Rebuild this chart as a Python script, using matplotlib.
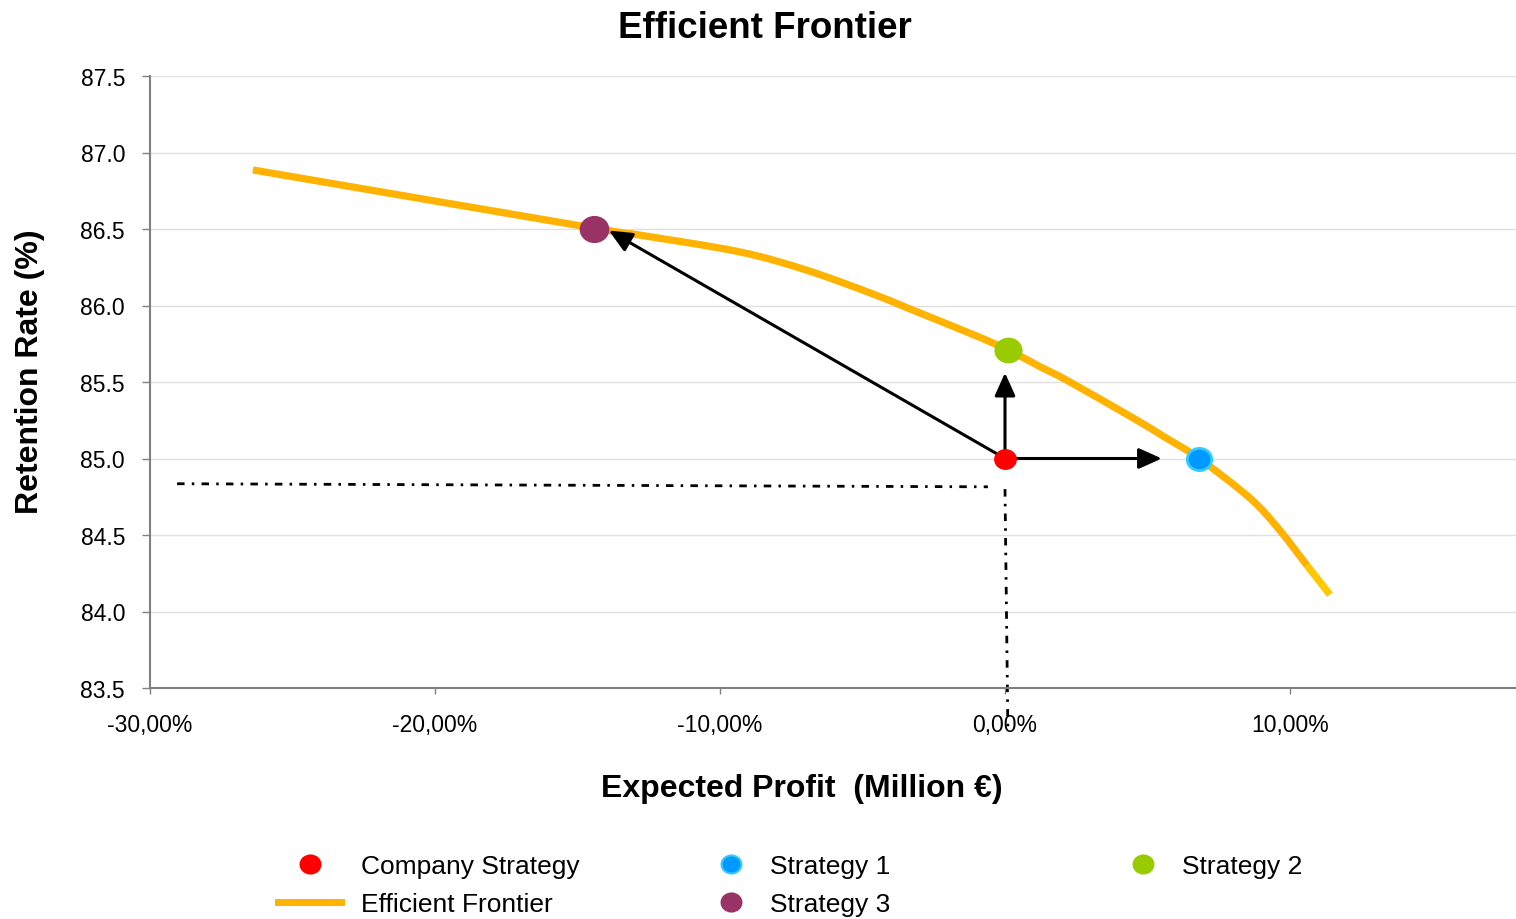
import matplotlib
matplotlib.use("Agg")
import matplotlib.pyplot as plt
from matplotlib.lines import Line2D
from matplotlib.markers import MarkerStyle
from matplotlib.transforms import Affine2D
from matplotlib.path import Path
from matplotlib.patches import PathPatch

plt.rcParams['font.family'] = ['Liberation Sans', 'DejaVu Sans']

# Efficient frontier: expected profit (%) vs retention rate (%)
frontier_x = [-26.39, -14.46, -12.81, -9.30, -6.95, -4.63, -3.44, -1.12, 0.10,
              1.23, 2.18, 4.49, 5.60, 6.81, 8.60, 9.60, 10.60, 11.40]
frontier_y = [86.886, 86.507, 86.46, 86.35, 86.23, 86.075, 85.985, 85.81, 85.71,
              85.60, 85.51, 85.265, 85.14, 85.00, 84.74, 84.54, 84.30, 84.11]

# Strategy points
company_xy = (0.0, 85.0)
strategy1_xy = (6.8, 85.0)
strategy2_xy = (0.1, 85.71)
strategy3_xy = (-14.42, 86.5)

# Arrow tips starting from the company strategy
arrow_tips = [(5.5, 85.0), (0.0, 85.56), (-13.9, 86.49)]

# Reference guide lines
guide_h_x = [-29.05, -0.6]
guide_h_y = [84.835, 84.815]
guide_v_x = [0.0, 0.1]
guide_v_y = [84.80, 83.25]

y_ticks = [83.5, 84.0, 84.5, 85.0, 85.5, 86.0, 86.5, 87.0, 87.5]
x_ticks = [-30, -20, -10, 0, 10]
x_tick_labels = ['-30,00%', '-20,00%', '-10,00%', '0,00%', '10,00%']

FRONTIER = '#FFB300'
FRONTIER_END = '#FFC800'
RED = '#FF0000'
BLUE = '#0099FF'
BLUE_EDGE = '#33CCFF'
GREEN = '#99CC00'
PURPLE = '#993366'

W, H = 1516, 920
fig = plt.figure(figsize=(W / 100, H / 100), dpi=100)
ax = fig.add_axes([150 / W, 1 - 689 / H, (W - 150) / W, (689 - 77) / H])

ellipse = MarkerStyle('o', transform=Affine2D().scale(1.1, 1.0))


def smooth_path(xs, ys, tension=1 / 6):
    """Smoothed line through the points using cubic Bezier segments."""
    pts = list(zip(xs, ys))
    verts = [pts[0]]
    codes = [Path.MOVETO]
    n = len(pts)
    for i in range(n - 1):
        p0 = pts[i - 1] if i > 0 else pts[i]
        p1 = pts[i]
        p2 = pts[i + 1]
        p3 = pts[i + 2] if i + 2 < n else pts[i + 1]
        c1 = (p1[0] + (p2[0] - p0[0]) * tension, p1[1] + (p2[1] - p0[1]) * tension)
        c2 = (p2[0] - (p3[0] - p1[0]) * tension, p2[1] - (p3[1] - p1[1]) * tension)
        verts += [c1, c2, p2]
        codes += [Path.CURVE4] * 3
    return Path(verts, codes)


# frontier curve
ax.add_patch(PathPatch(smooth_path(frontier_x[:-1], frontier_y[:-1]), fill=False,
                       edgecolor=FRONTIER, lw=5.2, joinstyle='round',
                       capstyle='butt', zorder=3))
ax.plot(frontier_x[-2:], frontier_y[-2:], color=FRONTIER_END, lw=5.2,
        solid_capstyle='butt', zorder=3)

# dash-dot guides
dd = (2.7, 2.6, 0.9, 2.6)
ax.plot(guide_h_x, guide_h_y, color='black', lw=2.0, dashes=dd, zorder=2)
ax.plot(guide_v_x, guide_v_y, color='black', lw=2.0, dashes=dd, zorder=2,
        clip_on=False)

# arrows
for tip in arrow_tips:
    ax.annotate('', xy=tip, xytext=company_xy,
                arrowprops=dict(arrowstyle='-|>,head_length=1.0,head_width=0.45',
                                mutation_scale=14, color='black', lw=2.2,
                                shrinkA=0, shrinkB=0),
                zorder=4)

# strategy markers
ax.plot(*company_xy, ls='none', marker=ellipse, ms=14, color=RED, mec=RED, zorder=5)
ax.plot(*strategy1_xy, ls='none', marker=ellipse, ms=16, color=BLUE,
        mec=BLUE_EDGE, mew=2, zorder=5)
ax.plot(*strategy2_xy, ls='none', marker=ellipse, ms=17.5, color=GREEN, mec=GREEN, zorder=5)
ax.plot(*strategy3_xy, ls='none', marker=ellipse, ms=18.5, color=PURPLE, mec=PURPLE, zorder=5)

# axes styling
ax.set_xlim(-30, 17.93)
ax.set_ylim(83.5, 87.5)
ax.set_yticks(y_ticks)
ax.set_yticklabels([f'{v:.1f}' for v in y_ticks])
ax.set_xticks(x_ticks)
ax.set_xticklabels(x_tick_labels)
ax.tick_params(axis='y', length=6, width=1, color='#808080', pad=12, labelsize=16.5)
ax.tick_params(axis='x', length=4.5, width=1, color='#808080', pad=13.5, labelsize=16.5)
ax.grid(axis='y', color='#E0E0E0', lw=1)
ax.set_axisbelow(True)
for s in ['top', 'right']:
    ax.spines[s].set_visible(False)
for s in ['left', 'bottom']:
    ax.spines[s].set_color('#808080')
    ax.spines[s].set_linewidth(1.5)

ax.text(0.450, 1.080, 'Efficient Frontier', transform=ax.transAxes,
        fontsize=26.5, fontweight='bold', ha='center', va='center')
ax.set_xlabel('Expected Profit  (Million €)', fontsize=23, fontweight='bold', va='center')
ax.xaxis.set_label_coords(0.477, -0.164)
ax.set_ylabel('Retention Rate (%)', fontsize=23, fontweight='bold', va='center')
ax.yaxis.set_label_coords(-0.0878, 0.519)

# legend, three columns
def mk(color, edge=None):
    return Line2D([], [], ls='none', marker=ellipse, ms=13, color=color,
                  mec=edge or color, mew=1.5)

leg_kw = dict(loc='upper left', frameon=False, fontsize=19, handletextpad=0.75,
              borderpad=0, borderaxespad=0, labelspacing=0.53)
top = 1 - 855 / H
fig.legend([mk(RED), Line2D([], [], color=FRONTIER, lw=5)],
           ['Company Strategy', 'Efficient Frontier'],
           bbox_to_anchor=(278 / W, top), handlelength=2.4, **leg_kw)
fig.legend([mk(BLUE, BLUE_EDGE), mk(PURPLE)], ['Strategy 1', 'Strategy 3'],
           bbox_to_anchor=(711 / W, top), handlelength=1.5, **leg_kw)
fig.legend([mk(GREEN)], ['Strategy 2'],
           bbox_to_anchor=(1123 / W, top), handlelength=1.5, **leg_kw)

fig.savefig('out.png', dpi=100)
